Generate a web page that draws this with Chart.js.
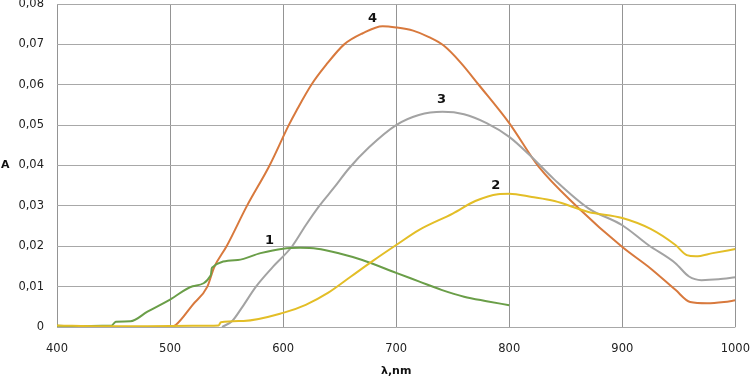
<!DOCTYPE html>
<html>
<head>
<meta charset="utf-8">
<script src="https://cdn.jsdelivr.net/npm/chart.js@4.4.1/dist/chart.umd.min.js"></script>
<style>
  html, body { margin: 0; padding: 0; background: #fff; }
  #wrap { width: 750px; height: 378px; }
</style>
</head>
<body>
<div id="wrap"><canvas id="chart"></canvas></div>
<script>
// wavelengths (nm) and absorbance for each spectrum
const wl1 = [400, 420, 440, 448, 452, 465, 480, 500, 520, 536, 537, 560, 580, 600, 615, 630, 650, 670, 700, 720, 740, 760, 780, 800];
const a1  = [0.0003, 0.0002, 0.0003, 0.0003, 0.0013, 0.0014, 0.0038, 0.0068, 0.0101, 0.0128, 0.0147, 0.0166, 0.0183, 0.0194, 0.0196, 0.0194, 0.0182, 0.0166, 0.0134, 0.0113, 0.0092, 0.0075, 0.0064, 0.0054];

const wl2 = [400, 440, 480, 520, 543, 545, 565, 600, 620, 640, 660, 680, 700, 720, 750, 770, 790, 800, 820, 840, 870, 900, 925, 947, 957, 965, 980, 1000];
const a2  = [0.0004, 0.0002, 0.0002, 0.0003, 0.0004, 0.0012, 0.0015, 0.0035, 0.0055, 0.0085, 0.0125, 0.0165, 0.0203, 0.0240, 0.0281, 0.0312, 0.0329, 0.0330, 0.0322, 0.0312, 0.0285, 0.0270, 0.0243, 0.0203, 0.0178, 0.0175, 0.0183, 0.0193];

const wl3 = [546, 555, 564, 576, 590, 608, 620, 632, 645, 658, 676, 700, 720, 741, 760, 780, 800, 818, 840, 870, 900, 923, 947, 959, 970, 985, 1000];
const a3  = [0, 0.0015, 0.005, 0.01, 0.0146, 0.02, 0.0252, 0.03, 0.0345, 0.0392, 0.0445, 0.050, 0.0525, 0.0533, 0.0527, 0.0505, 0.0471, 0.0426, 0.0365, 0.0294, 0.0252, 0.0203, 0.0158, 0.0125, 0.0116, 0.0118, 0.0123];

const wl4 = [500, 505, 520, 533, 539, 550, 568, 588, 605, 612, 625, 638, 654, 670, 688, 700, 715, 729, 742, 757, 773, 800, 826, 860, 900, 925, 947, 960, 975, 990, 1000];
const a4  = [0, 0.0005, 0.0055, 0.01, 0.0148, 0.02, 0.03, 0.04, 0.05, 0.0537, 0.06, 0.0649, 0.07, 0.0727, 0.0745, 0.0742, 0.0734, 0.0718, 0.0697, 0.0655, 0.06, 0.0505, 0.0397, 0.0298, 0.0198, 0.0145, 0.0092, 0.0062, 0.0059, 0.0062, 0.0066];

// curve number labels: [text, wavelength, absorbance]
const curveLabels = [["1", 588, 0.0215], ["2", 788, 0.0349], ["3", 740, 0.0563], ["4", 679, 0.0765]];

const xTicks = [400, 500, 600, 700, 800, 900, 1000];
const yTicks = [0, 0.01, 0.02, 0.03, 0.04, 0.05, 0.06, 0.07, 0.08];

function pts(xs, ys) {
    return xs.map((x, i) => ({ x: x, y: ys[i] }));
}

const labelPlugin = {
    id: 'curveLabels',
    afterDatasetsDraw: function(chart) {
        const ctx = chart.ctx;
        const xs = chart.scales.x, ys = chart.scales.y;
        ctx.save();
        ctx.fillStyle = '#111';
        ctx.font = 'bold 13px "DejaVu Sans"';
        ctx.textAlign = 'center';
        ctx.textBaseline = 'middle';
        curveLabels.forEach(function(l) {
            ctx.fillText(l[0], xs.getPixelForValue(l[1]), ys.getPixelForValue(l[2]));
        });
        // y axis title, horizontal like the original
        ctx.font = 'bold 11px "DejaVu Sans"';
        ctx.textAlign = 'left';
        ctx.fillText('A', 1, ys.getPixelForValue(0.04));
        ctx.restore();
    }
};

new Chart(document.getElementById('chart'), {
    type: 'line',
    data: {
        datasets: [
            { data: pts(wl2, a2), borderColor: '#e3be27' },
            { data: pts(wl1, a1), borderColor: '#6a9e48' },
            { data: pts(wl3, a3), borderColor: '#a3a3a3' },
            { data: pts(wl4, a4), borderColor: '#d8793d' }
        ].map(d => Object.assign(d, { borderWidth: 2, pointRadius: 0, fill: false, cubicInterpolationMode: 'monotone' }))
    },
    options: {
        responsive: true,
        maintainAspectRatio: false,
        animation: false,
        layout: { padding: { top: 4, right: 0, left: 0, bottom: 0 } },
        plugins: { legend: { display: false }, tooltip: { enabled: false } },
        scales: {
            x: {
                type: 'linear',
                min: 400, max: 1000,
                afterBuildTicks: function(s) { s.ticks = xTicks.map(v => ({ value: v })); },
                afterFit: function(s) { s.height = 51; },
                grid: { color: '#949494', drawTicks: false },
                border: { display: false },
                ticks: {
                    padding: 0, color: '#222', maxRotation: 0,
                    // tall line box pushes the labels down without widening the right padding
                    font: { family: 'DejaVu Sans', size: 11.5, lineHeight: '44px' },
                    callback: function(v) { return String(v); }
                },
                title: { display: true, text: 'λ,nm', color: '#111', padding: { top: 0, bottom: 0 }, font: { family: 'DejaVu Sans', size: 11, weight: 'bold' } }
            },
            y: {
                min: 0, max: 0.08,
                afterBuildTicks: function(s) { s.ticks = yTicks.map(v => ({ value: v })); },
                afterFit: function(s) { s.width = 57; s.paddingTop = 0; s.paddingBottom = 0; },
                grid: { color: '#a8a8a8', drawTicks: false },
                border: { display: false },
                ticks: {
                    padding: 13, color: '#222',
                    font: { family: 'DejaVu Sans', size: 11.5 },
                    callback: function(v) { return v === 0 ? '0' : v.toFixed(2).replace('.', ','); }
                }
            }
        }
    },
    plugins: [labelPlugin]
});
</script>
</body>
</html>
